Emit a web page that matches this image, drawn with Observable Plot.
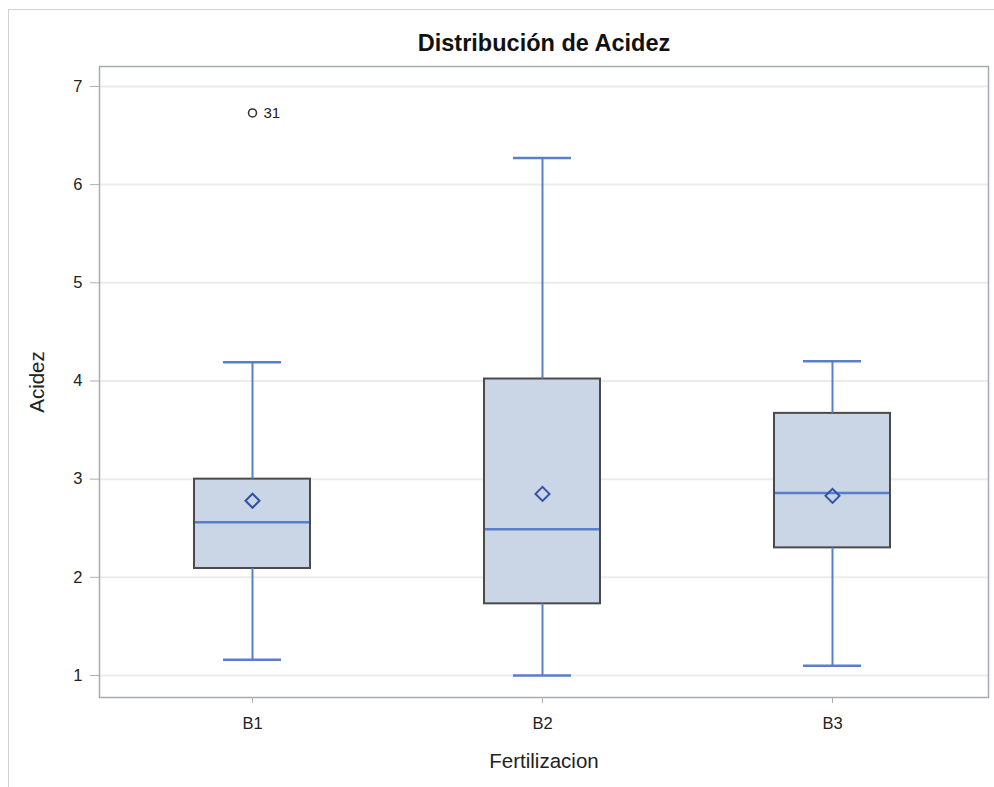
<!DOCTYPE html>
<html>
<head>
<meta charset="utf-8">
<script src="https://cdn.jsdelivr.net/npm/d3@7"></script>
<script src="https://cdn.jsdelivr.net/npm/@observablehq/plot@0.6"></script>
<style>
  html, body { margin: 0; padding: 0; background: #fff; }
  #wrap { position: relative; width: 994px; height: 787px; overflow: hidden; }
  #outer { position: absolute; left: 8px; top: 9px; width: 1100px; height: 900px;
           border-left: 1.5px solid #d2d2d2; border-top: 1.5px solid #d2d2d2; }
  #chart { position: absolute; left: 0; top: 0; }
</style>
</head>
<body>
<div id="wrap"><div id="outer"></div><div id="chart"></div></div>
<script>
const groups = ["B1", "B2", "B3"];
const whiskerLow = [1.16, 1.0, 1.1];
const q1 = [2.09, 1.73, 2.3];
const median = [2.56, 2.49, 2.86];
const q3 = [3.0, 4.02, 3.67];
const whiskerHigh = [4.19, 6.27, 4.2];
const means = [2.78, 2.85, 2.83];
const outlierGroups = ["B1"];
const outlierValues = [6.73];
const outlierIds = ["31"];
const yTicks = [1, 2, 3, 4, 5, 6, 7];

const boxes = groups.map((g, i) => ({group: g, low: whiskerLow[i], q1: q1[i], med: median[i], q3: q3[i], high: whiskerHigh[i], mean: means[i]}));
const outliers = outlierGroups.map((g, i) => ({group: g, value: outlierValues[i], id: outlierIds[i]}));

const blue = "#5b7ec8";
const chart = Plot.plot({
  width: 994,
  height: 787,
  marginLeft: 99,
  marginRight: 6,
  marginTop: 66,
  marginBottom: 90,
  style: {fontFamily: "'Liberation Sans', Arial, sans-serif", fontSize: "16px", color: "#222", background: "transparent"},
  x: {type: "band", domain: groups, range: [194, 890], paddingInner: 0.6, paddingOuter: 0},
  y: {domain: [0.776, 7.203]},
  marks: [
    Plot.ruleY(yTicks, {stroke: "#ececec", strokeWidth: 2}),
    Plot.barY(boxes, {x: "group", y1: "q1", y2: "q3", fill: "#cad5e5", stroke: "#4a4a4a", strokeWidth: 2}),
    Plot.ruleX(boxes, {x: "group", y1: "q3", y2: "high", stroke: blue, strokeWidth: 2}),
    Plot.ruleX(boxes, {x: "group", y1: "low", y2: "q1", stroke: blue, strokeWidth: 2}),
    Plot.tickY(boxes, {x: "group", y: "high", stroke: blue, strokeWidth: 2.5, insetLeft: 29, insetRight: 29}),
    Plot.tickY(boxes, {x: "group", y: "low", stroke: blue, strokeWidth: 2.5, insetLeft: 29, insetRight: 29}),
    Plot.tickY(boxes, {x: "group", y: "med", stroke: blue, strokeWidth: 2.5, insetLeft: 1, insetRight: 1}),
    Plot.dot(boxes, {x: "group", y: "mean", symbol: "diamond2", r: 6.3, stroke: "#2d52a8", strokeWidth: 2, fill: "none"}),
    Plot.dot(outliers, {x: "group", y: "value", r: 4, stroke: "#333", strokeWidth: 1.5, fill: "none"}),
    Plot.text(outliers, {x: "group", y: "value", text: "id", dx: 11, textAnchor: "start", fontSize: 15, fill: "#222"}),
    Plot.frame({stroke: "#a8abb0", strokeWidth: 1.5}),
    Plot.axisY(yTicks, {tickSize: 9, tickPadding: 8, fontSize: 16.5, stroke: "#b0b0b0", fill: "#222", label: null, tickFormat: d3.format("d")}),
    Plot.axisX(groups, {tickSize: 6, tickPadding: 14, fontSize: 16.5, stroke: "#b0b0b0", fill: "#222", label: null}),
    Plot.text(["Distribución de Acidez"], {frameAnchor: "top", lineAnchor: "middle", dy: -23, fontSize: 23.5, fontWeight: "bold", fill: "#111"}),
    Plot.text(["Fertilizacion"], {frameAnchor: "bottom", lineAnchor: "middle", dy: 64, fontSize: 20.5, fill: "#222"}),
    Plot.text(["Acidez"], {frameAnchor: "left", textAnchor: "middle", lineAnchor: "middle", dx: -62.5, rotate: -90, fontSize: 20.5, fill: "#222"})
  ]
});
document.getElementById("chart").appendChild(chart);
</script>
</body>
</html>
